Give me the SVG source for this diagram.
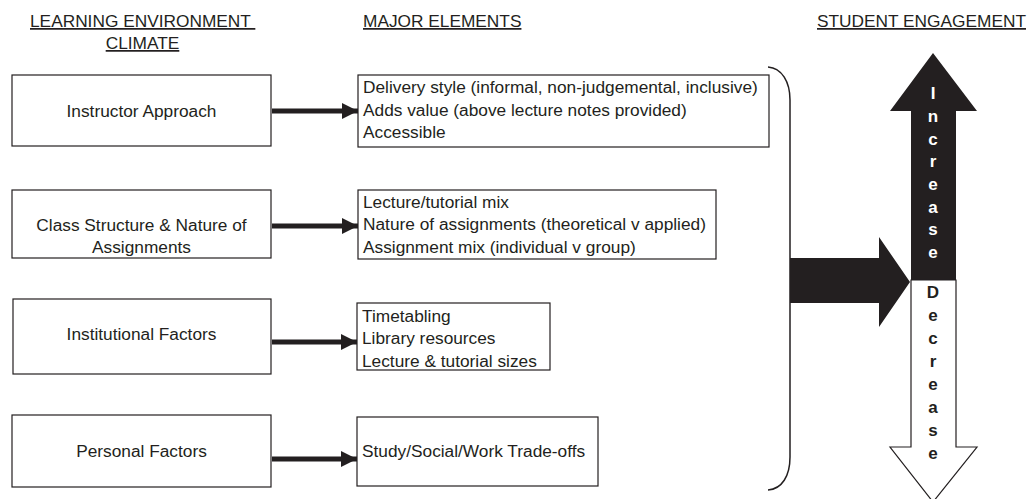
<svg xmlns="http://www.w3.org/2000/svg" width="1029" height="499" viewBox="0 0 1029 499">
<style>
text{font-family:"Liberation Sans",Arial,sans-serif;font-size:17.3px;fill:#231f20}
.box{fill:#fff;stroke:#231f20;stroke-width:1.2}
.hdr{text-decoration:underline}
.mid{text-anchor:middle}
.conn{stroke:#231f20;stroke-width:5;fill:none}
.big{fill:#231f20}
.vl{font-weight:bold;text-anchor:middle;font-size:17px}
</style>
<defs>
<marker id="ah" markerUnits="userSpaceOnUse" viewBox="0 0 16 16" refX="16" refY="8" markerWidth="16" markerHeight="16" orient="auto">
<path d="M0,0 L16,8 L0,16 z" fill="#231f20"/>
</marker>
</defs>
<g id="headers">
<text x="30" y="27" class="hdr" xml:space="preserve">LEARNING ENVIRONMENT </text>
<text x="142.5" y="49" class="hdr mid">CLIMATE</text>
<text x="363" y="27" class="hdr">MAJOR ELEMENTS</text>
<text x="817" y="27" class="hdr">STUDENT ENGAGEMENT</text>
</g>
<g id="instructor-approach">
<rect class="box" x="12" y="75" width="259" height="71"/>
<text x="141.5" y="117" class="mid">Instructor Approach</text>
</g>
<g id="class-structure">
<rect class="box" x="12" y="190" width="259" height="68"/>
<text x="141.5" y="231" class="mid">Class Structure &amp; Nature of</text>
<text x="141.5" y="253" class="mid">Assignments</text>
</g>
<g id="institutional-factors">
<rect class="box" x="13" y="299" width="258" height="75"/>
<text x="141.5" y="340" class="mid">Institutional Factors</text>
</g>
<g id="personal-factors">
<rect class="box" x="12" y="415" width="259" height="72"/>
<text x="141.5" y="457" class="mid">Personal Factors</text>
</g>
<g id="instructor-elements">
<rect class="box" x="358" y="75" width="411" height="72"/>
<text x="363" y="93">Delivery style (informal, non-judgemental, inclusive)</text>
<text x="363" y="116">Adds value (above lecture notes provided)</text>
<text x="363" y="138">Accessible</text>
</g>
<g id="class-elements">
<rect class="box" x="358" y="190" width="358" height="69"/>
<text x="363" y="208">Lecture/tutorial mix</text>
<text x="363" y="230">Nature of assignments (theoretical v applied)</text>
<text x="363" y="253">Assignment mix (individual v group)</text>
</g>
<g id="institutional-elements">
<rect class="box" x="357" y="303" width="193" height="67"/>
<text x="362" y="322">Timetabling</text>
<text x="362" y="344">Library resources</text>
<text x="362" y="367">Lecture &amp; tutorial sizes</text>
</g>
<g id="personal-elements">
<rect class="box" x="357" y="417" width="241" height="69"/>
<text x="362" y="457">Study/Social/Work Trade-offs</text>
</g>
<g id="connectors">
<line class="conn" x1="272" y1="111" x2="358" y2="111" marker-end="url(#ah)"/>
<line class="conn" x1="272" y1="226" x2="358" y2="226" marker-end="url(#ah)"/>
<line class="conn" x1="272" y1="342" x2="357" y2="342" marker-end="url(#ah)"/>
<line class="conn" x1="272" y1="459" x2="357" y2="459" marker-end="url(#ah)"/>
<path d="M768,67 C782,68 790,82 790,100 L790,457 C790,476 782,489 768,490" fill="none" stroke="#231f20" stroke-width="1.5"/>
<polygon class="big" points="790,258 879,258 879,237 910,282 879,327 879,303 790,303"/>
</g>
<g id="engagement-arrow">
<polygon class="big" points="933,53 977,111 956,111 956,280 911,280 911,111 890,111"/>
<polygon points="911,280 956,280 956,447 977,447 933,502 890,447 911,447" fill="#fff" stroke="#231f20" stroke-width="1.2"/>
<text class="vl" style="fill:#fff">
<tspan x="933" y="99">I</tspan><tspan x="933" y="122">n</tspan><tspan x="933" y="145">c</tspan><tspan x="933" y="167">r</tspan><tspan x="933" y="190">e</tspan><tspan x="933" y="213">a</tspan><tspan x="933" y="235">s</tspan><tspan x="933" y="258">e</tspan>
</text>
<text class="vl">
<tspan x="933" y="298">D</tspan><tspan x="933" y="321">e</tspan><tspan x="933" y="344">c</tspan><tspan x="933" y="367">r</tspan><tspan x="933" y="390">e</tspan><tspan x="933" y="413">a</tspan><tspan x="933" y="436">s</tspan><tspan x="933" y="459">e</tspan>
</text>
</g>
</svg>
